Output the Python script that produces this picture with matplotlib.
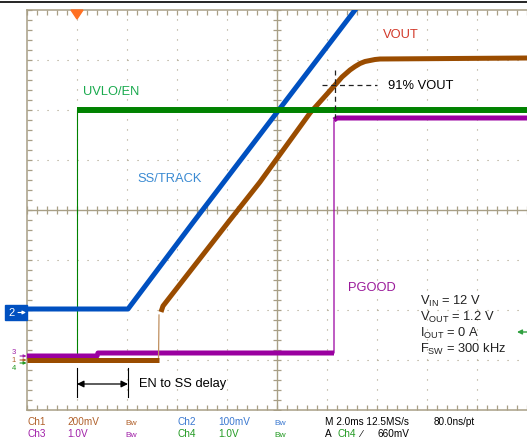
import matplotlib.pyplot as plt
from matplotlib.lines import Line2D
from matplotlib.patches import Rectangle, Polygon
from matplotlib.ticker import MultipleLocator

plt.rcParams.update({
    "font.family": "Liberation Sans",
    "mathtext.fontset": "custom",
    "mathtext.rm": "Liberation Sans",
    "mathtext.it": "Liberation Sans:italic",
})

# ---- scope traces, in screen divisions (10 x 8 graticule) ----
en_t = [0.0, 1.0, 1.0, 10.0]                       # Ch4  UVLO/EN
en_v = [1.06, 1.06, 6.0, 6.0]

ss_t = [0.0, 2.02, 3.32, 6.56, 6.9]                # Ch2  SS/TRACK
ss_v = [2.02, 2.02, 3.75, 8.0, 8.45]

vout_t = [0.0, 2.63, 2.64, 2.68, 2.72, 4.06, 4.66, 5.66, 6.0, 6.16, 6.3, 6.46,
          6.56, 6.66, 6.76, 6.86, 6.96, 7.06, 10.0]                               # Ch1 VOUT
vout_v = [1.0, 1.0, 1.9, 1.96, 2.08, 3.8, 4.56, 5.94, 6.32, 6.5, 6.66, 6.8,
          6.87, 6.93, 6.97, 6.99, 7.01, 7.02, 7.04]

pg_t = [0.0, 1.4, 1.42, 6.14, 6.14, 6.2, 10.0]     # Ch3  PGOOD
pg_v = [1.08, 1.08, 1.14, 1.14, 5.8, 5.84, 5.84]

params = [r"V$_{\rm IN}$ = 12 V", r"V$_{\rm OUT}$ = 1.2 V",
          r"I$_{\rm OUT}$ = 0 A", r"F$_{\rm SW}$ = 300 kHz"]

row1 = ["Ch1", "200mV", "Bw", "Ch2", "100mV", "Bw", "M 2.0ms 12.5MS/s", "80.0ns/pt"]
row2 = ["Ch3", "1.0V", "Bw", "Ch4", "1.0V", "Bw", "A", "Ch4", "\u2215", "660mV"]

# colours
C_EN, C_SS, C_VO, C_PG = "#008200", "#0050c0", "#9a4c00", "#9a00a0"
C_GRID = "#a89f86"
C1, C2, C3, C4 = "#b0602a", "#3a78d0", "#a020a8", "#229a22"

fig = plt.figure(figsize=(5.27, 4.4), dpi=100)
ax = fig.add_axes([27 / 527, 30 / 440, 500 / 527, 400 / 440])
ax.set_xlim(0, 10)
ax.set_ylim(0, 8)

# graticule
for s in ["left", "top", "bottom"]:
    ax.spines[s].set_color(C_GRID)
    ax.spines[s].set_linewidth(1.1)
ax.spines["right"].set_visible(False)
ax.xaxis.set_major_locator(MultipleLocator(1))
ax.xaxis.set_minor_locator(MultipleLocator(0.2))
ax.yaxis.set_major_locator(MultipleLocator(1))
ax.yaxis.set_minor_locator(MultipleLocator(0.2))
ax.tick_params(which="both", direction="in", length=3.4, width=0.9, color=C_GRID,
               top=True, right=False, labelbottom=False, labelleft=False)

for gx in range(1, 10):
    if gx != 5:
        ax.plot([gx, gx], [0, 8], color=C_GRID, lw=0.8, ls=(0, (1, 8.0)), zorder=1)
for gy in range(1, 8):
    if gy != 4:
        ax.plot([0, 10], [gy, gy], color=C_GRID, lw=0.8, ls=(0, (1, 8.0)), zorder=1)
ax.axvline(5, color=C_GRID, lw=1.0, zorder=1)
ax.axhline(4, color=C_GRID, lw=1.0, zorder=1)
tk = [i * 0.2 for i in range(51)]
ax.plot(tk, [4] * len(tk), ls="none", marker="|", ms=6, mew=0.9, color=C_GRID, zorder=1)
tk = [i * 0.2 for i in range(41)]
ax.plot([5] * len(tk), tk, ls="none", marker="_", ms=6, mew=0.9, color=C_GRID, zorder=1)

# traces
ax.plot(en_t, en_v, color=C_EN, lw=0.8, zorder=2)
ax.plot(en_t[:2], en_v[:2], color=C_EN, lw=4.0, zorder=2, solid_capstyle="butt")
ax.plot(pg_t, pg_v, color=C_PG, lw=0.9, zorder=3)
ax.plot(pg_t[:4], pg_v[:4], color=C_PG, lw=3.6, zorder=3, solid_capstyle="butt")
ax.plot(pg_t[4:], pg_v[4:], color=C_PG, lw=3.6, zorder=3, solid_capstyle="butt")
ax.plot(ss_t, ss_v, color=C_SS, lw=3.6, zorder=4, solid_capstyle="butt")
ax.plot(vout_t[:3], vout_v[:3], color="#c09060", lw=0.9, zorder=5)
ax.plot(vout_t[:2], vout_v[:2], color=C_VO, lw=3.6, zorder=5, solid_capstyle="butt")
ax.plot(vout_t[3:], vout_v[3:], color=C_VO, lw=3.6, zorder=5, solid_capstyle="butt",
        solid_joinstyle="round")
ax.plot(en_t[2:], en_v[2:], color=C_EN, lw=4.3, zorder=6, solid_capstyle="butt")

# annotations
fs = 9.3
ax.text(1.12, 6.3, "UVLO/EN", color="#1aaa4e", fontsize=fs, va="baseline", zorder=8)
ax.text(2.2, 4.56, "SS/TRACK", color="#3a8ad2", fontsize=fs, va="baseline", zorder=8)
ax.text(7.12, 7.44, "VOUT", color="#d2392a", fontsize=fs, va="baseline", zorder=8)
ax.text(7.22, 6.42, "91% VOUT", color="black", fontsize=fs, va="baseline", zorder=8)
ax.text(6.42, 2.38, "PGOOD", color="#9a1a9a", fontsize=fs, va="baseline", zorder=8)
ax.text(2.24, 0.46, "EN to SS delay", color="black", fontsize=fs, va="baseline", zorder=8)
for i, p in enumerate(params):
    ax.text(7.86, 2.1 - 0.32 * i, p, color="#222222", fontsize=fs, va="baseline", zorder=8)

ax.plot([5.9, 7.0], [6.5, 6.5], color="#222222", lw=0.9, ls=(0, (4, 3)), zorder=7)
ax.plot([6.15, 6.15], [6.8, 5.84], color="#222222", lw=0.9, ls=(0, (4, 3)), zorder=7)

ax.annotate("", xy=(1.0, 0.52), xytext=(2.02, 0.52),
            arrowprops=dict(arrowstyle="<|-|>", color="black", lw=0.9,
                            shrinkA=0, shrinkB=0, mutation_scale=10), zorder=8)
ax.plot([1.0, 1.0], [0.26, 0.84], color="black", lw=0.8, zorder=8)
ax.plot([2.02, 2.02], [0.26, 0.84], color="black", lw=0.8, zorder=8)

# channel markers
ax.add_patch(Rectangle((-0.44, 1.8), 0.44, 0.3, color=C_SS, clip_on=False, zorder=8))
ax.text(-0.3, 1.94, "2", color="white", fontsize=8, ha="center", va="center", zorder=9)
ax.annotate("", xy=(-0.02, 1.95), xytext=(-0.18, 1.95), annotation_clip=False,
            arrowprops=dict(arrowstyle="-|>", color="white", lw=0.8,
                            shrinkA=0, shrinkB=0, mutation_scale=5), zorder=9)
ax.text(-0.27, 1.16, "3", color=C3, fontsize=5.5, ha="center", va="center", zorder=9)
ax.text(-0.27, 1.0, "1", color=C1, fontsize=5.5, ha="center", va="center", zorder=9)
ax.text(-0.27, 0.84, "4", color=C4, fontsize=5.5, ha="center", va="center", zorder=9)
for yy, cc in [(1.08, C3), (1.0, C1), (0.94, C4)]:
    ax.annotate("", xy=(-0.01, yy), xytext=(-0.14, yy), annotation_clip=False,
                arrowprops=dict(arrowstyle="-|>", color=cc, lw=0.8,
                                shrinkA=0, shrinkB=0, mutation_scale=4), zorder=9)

ax.add_patch(Polygon([(0.88, 8.0), (1.12, 8.0), (1.0, 7.82)], closed=True,
                     color="#ff7022", clip_on=False, zorder=9))
ax.annotate("", xy=(9.8, 1.56), xytext=(10.0, 1.56), annotation_clip=False,
            arrowprops=dict(arrowstyle="-|>", color="#30a040", lw=1.0,
                            shrinkA=0, shrinkB=0, mutation_scale=7), zorder=9)

# scope status lines below the screen
x1 = [0.0, 0.8, 1.96, 3.0, 3.82, 4.94, 5.96, 8.14]
c1 = [C1, C1, C1, C2, C2, C2, "black", "black"]
x2 = [0.0, 0.8, 1.96, 3.0, 3.82, 4.94, 5.96, 6.22, 6.66, 7.0]
c2 = [C3, C3, C3, C4, C4, C4, "black", C4, "black", "black"]
for x, t, c in zip(x1, row1, c1):
    ax.text(x, -0.3, t, color=c, fontsize=6 if t == "Bw" else 7.2,
            va="baseline", clip_on=False)
for x, t, c in zip(x2, row2, c2):
    ax.text(x, -0.54, t, color=c, fontsize=6 if t == "Bw" else 7.2,
            va="baseline", clip_on=False)

fig.add_artist(Line2D([0, 1], [1 - 2.5 / 440] * 2, color="black", lw=1.2))

fig.savefig("out.png", dpi=100)
